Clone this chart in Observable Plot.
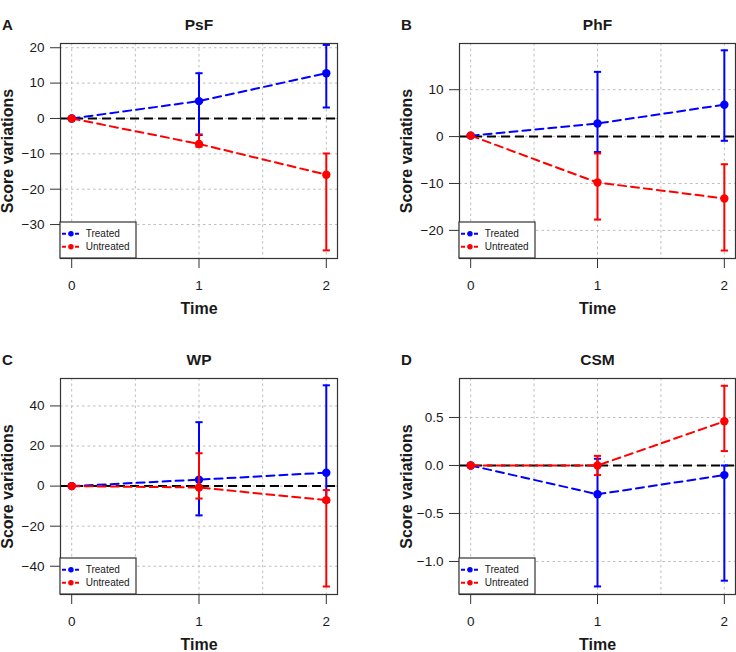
<!DOCTYPE html>
<html><head><meta charset="utf-8">
<script src="https://cdn.jsdelivr.net/npm/d3@7"></script>
<script src="https://cdn.jsdelivr.net/npm/@observablehq/plot@0.6"></script>
<style>
body{margin:0;background:#fff;}
#root{position:relative;width:736px;height:652px;overflow:hidden;font-family:"Liberation Sans",Arial,Helvetica,sans-serif;}
.panel{position:absolute;width:368px;height:326px;}
.panel svg{overflow:visible;}
</style></head><body><div id="root"></div>
<script>
// ---------- data ----------
const times = [0, 1, 2];
const timeTicks = [0, 1, 2];
const timeGrid = [0, 0.5, 1, 1.5, 2];
const panelLetters = ["A", "B", "C", "D"];
const panelTitles = ["PsF", "PhF", "WP", "CSM"];
const seriesNames = ["Treated", "Untreated"];
const seriesColors = ["#0000ff", "#ff0000"];

// PsF
const psfTreatedMean = [0, 4.9, 12.8];
const psfTreatedLow = [null, -4.7, 3.1];
const psfTreatedHigh = [null, 12.8, 20.8];
const psfUntreatedMean = [0, -7.2, -15.9];
const psfUntreatedLow = [null, -8.0, -37.3];
const psfUntreatedHigh = [null, -4.5, -9.9];
const psfTicks = [-30, -20, -10, 0, 10, 20];

// PhF
const phfTreatedMean = [0.2, 2.8, 6.8];
const phfTreatedLow = [null, -3.3, -0.9];
const phfTreatedHigh = [null, 13.8, 18.4];
const phfUntreatedMean = [0.2, -9.8, -13.2];
const phfUntreatedLow = [null, -17.7, -24.3];
const phfUntreatedHigh = [null, -3.6, -5.9];
const phfTicks = [-20, -10, 0, 10];

// WP
const wpTreatedMean = [0, 3.2, 6.7];
const wpTreatedLow = [null, -14.6, -7.9];
const wpTreatedHigh = [null, 31.9, 50.3];
const wpUntreatedMean = [0, -0.7, -7.0];
const wpUntreatedLow = [null, -6.2, -50.1];
const wpUntreatedHigh = [null, 16.4, -2.0];
const wpTicks = [-40, -20, 0, 20, 40];

// CSM
const csmTreatedMean = [0, -0.30, -0.10];
const csmTreatedLow = [null, -1.26, -1.20];
const csmTreatedHigh = [null, 0.07, 0.0];
const csmUntreatedMean = [0, 0.0, 0.46];
const csmUntreatedLow = [null, -0.10, 0.15];
const csmUntreatedHigh = [null, 0.10, 0.83];
const csmTicks = [-1.0, -0.5, 0.0, 0.5];

// ---------- layout ----------
const FONT = '"Liberation Sans", Arial, Helvetica, sans-serif';
const panels = [
  {left: 0, top: 0, mL: 60, mR: 31, mT: 43, mB: 68, yDomain: [-39.6, 21.2], ticks: psfTicks, fmt: d3.format("d"),
   series: [[psfTreatedMean, psfTreatedLow, psfTreatedHigh], [psfUntreatedMean, psfUntreatedLow, psfUntreatedHigh]]},
  {left: 368, top: 0, mL: 91, mR: 1, mT: 43, mB: 68, yDomain: [-26.0, 19.85], ticks: phfTicks, fmt: d3.format("d"),
   series: [[phfTreatedMean, phfTreatedLow, phfTreatedHigh], [phfUntreatedMean, phfUntreatedLow, phfUntreatedHigh]]},
  {left: 0, top: 326, mL: 60, mR: 31, mT: 52, mB: 58, yDomain: [-54.1, 53.7], ticks: wpTicks, fmt: d3.format("d"),
   series: [[wpTreatedMean, wpTreatedLow, wpTreatedHigh], [wpUntreatedMean, wpUntreatedLow, wpUntreatedHigh]]},
  {left: 368, top: 326, mL: 91, mR: 1, mT: 52, mB: 58, yDomain: [-1.344, 0.906], ticks: csmTicks, fmt: d3.format(".1f"),
   series: [[csmTreatedMean, csmTreatedLow, csmTreatedHigh], [csmUntreatedMean, csmUntreatedLow, csmUntreatedHigh]]}
];

const capSymbol = {
  draw(ctx, size) {
    const w = Math.sqrt(size / Math.PI);
    ctx.moveTo(-w, 0);
    ctx.lineTo(w, 0);
  }
};

function seriesMarks(rows) {
  const err = rows.filter(d => d.low != null);
  return [
    Plot.line(rows, {x: "time", y: "mean", stroke: "series", strokeWidth: 2, strokeDasharray: "8,5"}),
    Plot.ruleX(err, {x: "time", y1: "low", y2: "high", stroke: "series", strokeWidth: 2}),
    Plot.dot(err, {x: "time", y: "low", symbol: capSymbol, r: 3.6, fill: "none", stroke: "series", strokeWidth: 2}),
    Plot.dot(err, {x: "time", y: "high", symbol: capSymbol, r: 3.6, fill: "none", stroke: "series", strokeWidth: 2}),
    Plot.dot(rows, {x: "time", y: "mean", r: 4.2, fill: "series", stroke: "none"})
  ];
}

function addLegend(svg, P) {
  const g = d3.select(svg).append("g");
  const x0 = P.mL, yb = 326 - P.mB, w = 76, h = 36, y0 = yb - h;
  g.append("rect").attr("x", x0).attr("y", y0).attr("width", w).attr("height", h)
    .attr("fill", "white").attr("stroke", "#333").attr("stroke-width", 1.2);
  seriesNames.forEach((name, k) => {
    const cy = y0 + 11.7 + k * 13;
    g.append("line").attr("x1", x0 + 2).attr("x2", x0 + 20).attr("y1", cy).attr("y2", cy)
      .attr("stroke", seriesColors[k]).attr("stroke-width", 2).attr("stroke-dasharray", "4,2.5");
    g.append("circle").attr("cx", x0 + 11).attr("cy", cy).attr("r", 2.7).attr("fill", seriesColors[k]);
    g.append("text").attr("x", x0 + 25.7).attr("y", cy).attr("dy", "0.35em")
      .attr("text-anchor", "start")
      .attr("font-size", 10).attr("font-family", FONT).attr("fill", "#1a1a1a").text(name);
  });
}

const root = document.getElementById("root");
panels.forEach((P, i) => {
  const allRows = [];
  P.series.forEach(([mean, low, high], s) => {
    times.forEach((t, j) => {
      allRows.push({series: seriesNames[s], time: t, mean: mean[j], low: low[j], high: high[j]});
    });
  });
  const plot = Plot.plot({
    width: 368, height: 326,
    marginLeft: P.mL, marginRight: P.mR, marginTop: P.mT, marginBottom: P.mB,
    style: {fontFamily: FONT, fontSize: "13.5px", color: "#1a1a1a", background: "transparent", overflow: "visible"},
    x: {domain: [-0.088, 2.088], label: null},
    y: {domain: P.yDomain, label: null},
    color: {domain: seriesNames, range: seriesColors},
    marks: [
      Plot.gridX(timeGrid, {stroke: "#bdbdbd", strokeOpacity: 1, strokeWidth: 1, strokeDasharray: "2.5,3"}),
      Plot.gridY(P.ticks, {stroke: "#bdbdbd", strokeOpacity: 1, strokeWidth: 1, strokeDasharray: "2.5,3"}),
      Plot.ruleY([0], {stroke: "black", strokeWidth: 2, strokeDasharray: "9,5"}),
      ...seriesMarks(allRows.filter(d => d.series === "Treated")),
      ...seriesMarks(allRows.filter(d => d.series === "Untreated")),
      Plot.frame({stroke: "#333", strokeWidth: 1.2}),
      Plot.axisX(timeTicks, {tickSize: 10, tickPadding: 11.5, stroke: "#333", tickFormat: d => String(d), label: null, fontSize: 13.5}),
      Plot.axisY(P.ticks, {tickSize: 10, tickPadding: 6, stroke: "#333", tickFormat: P.fmt, label: null, fontSize: 13.5}),
      Plot.text([panelTitles[i]], {frameAnchor: "top", lineAnchor: "middle", dy: -18.5, fontWeight: "bold", fontSize: 15.5, textAnchor: "middle"}),
      Plot.text([panelLetters[i]], {frameAnchor: "top-left", lineAnchor: "middle", dx: -58.5, dy: -18.5, fontWeight: "bold", fontSize: 15, textAnchor: "start"}),
      Plot.text(["Score variations"], {frameAnchor: "left", lineAnchor: "middle", dx: -53, rotate: -90, fontWeight: "bold", fontSize: 16, textAnchor: "middle"}),
      Plot.text(["Time"], {frameAnchor: "bottom", lineAnchor: "middle", dy: 50.5, fontWeight: "bold", fontSize: 16, textAnchor: "middle"})
    ]
  });
  addLegend(plot, P);
  const div = document.createElement("div");
  div.className = "panel";
  div.style.left = P.left + "px";
  div.style.top = P.top + "px";
  div.appendChild(plot);
  root.appendChild(div);
});
</script>
</body></html>
